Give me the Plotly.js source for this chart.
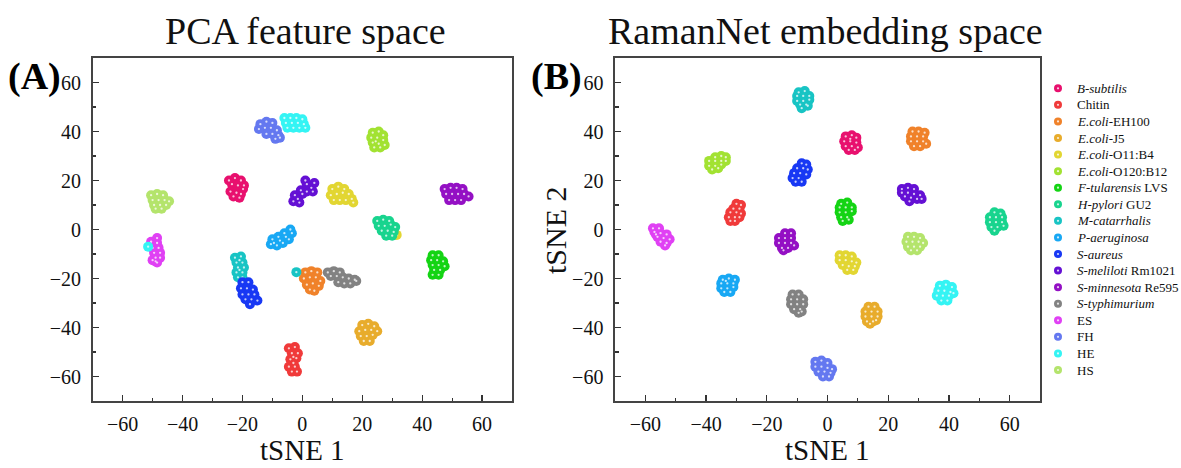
<!DOCTYPE html>
<html><head><meta charset="utf-8">
<script src="https://cdn.plot.ly/plotly-3.0.1.min.js"></script>
<style>html,body{margin:0;padding:0;background:#fff}#chart{width:1181px;height:468px}</style>
</head><body><div id="chart"></div>
<script>
const classes = ['<i>B-subtilis</i>','Chitin','<i>E.coli</i>-EH100','<i>E.coli</i>-J5','<i>E.coli</i>-O11:B4','<i>E.coli</i>-O120:B12','<i>F-tularensis</i> LVS','<i>H-pylori</i> GU2','<i>M-catarrhalis</i>','<i>P-aeruginosa</i>','<i>S-aureus</i>','<i>S-meliloti</i> Rm1021','<i>S-minnesota</i> Re595','<i>S-typhimurium</i>','ES','FH','HE','HS'];
const colors = ['#e8106e','#f03a3a','#f0822a','#e8ac2c','#e2d632','#a2e232','#14d414','#18d48e','#18c4c4','#18a8f4','#1838f4','#6410d4','#9410c4','#828282','#e040f4','#6478f0','#34f4f4','#b4e46c'];
const ticks = [-60,-40,-20,0,20,40,60];

// PCA feature space (panel A)
const pcaX = [
 [-24.5,-22.5,-20.5,-19.5,-23.5,-21.5,-19.8,-24,-22,-20.5,-23,-21],
 [-4.5,-2.5,-3.5,-1.5,-4,-2,-3,-4.5,-2.5,-3.5,-1.8,-3],
 [1,3,5,0.5,2.5,4.5,6,1.5,3.5,5.5,2.5,4],
 [20,22,24,19,21,23,25,19.5,21.5,23.5,20.5,22.5],
 [10,12,14,9.5,11.5,13.5,15.5,10.5,12.5,14.5,16.5,17,31.5],
 [23.5,25.5,27,23,25,27,23.5,25.5,27.5,24,26,24.5],
 [43.5,45.5,43,45,47,43.5,45.5,47.5,44,46,43.5,45.5],
 [25,27,29,25.5,27.5,29.5,31,26.5,28.5,30.5,28,30],
 [-22.5,-20.5,-22,-20,-21.5,-19.5,-22,-20,-21.5,-20,-21,-21,-2],
 [-10,-8,-6,-4,-9.5,-7.5,-5.5,-3.5,-8.5,-6.5,-4.5,-10.5],
 [-20,-18,-20.5,-18.5,-16.5,-20,-18,-16,-19,-17,-15,-17.5],
 [-3,-1.5,0,1.5,3,4,-2.5,-0.5,1.5,3.5,-1,1],
 [47.5,49.5,51.5,53.5,48,50,52,54,55.5,49,51,53],
 [8.5,10.5,12.5,9.5,11.5,13.5,15.5,17.5,12,14,16,18],
 [-50.5,-48.5,-50,-48,-49.5,-47.5,-49,-47.5,-48.5,-50,-48.5,-49],
 [-14,-12,-10,-14.5,-12.5,-10.5,-8.5,-12,-10,-8,-9,-7.5],
 [-6,-4,-2,0,-5.5,-3.5,-1.5,0.5,-5,-3,-1,1,-51.5],
 [-50.5,-48.5,-46.5,-50,-48,-46,-44.5,-49.5,-47.5,-45.5,-49,-47]
];
const pcaY = [
 [20,21,20,18,18.5,18,16.5,15.5,15,14.5,13.5,13],
 [-48.5,-48,-50.5,-50.5,-53,-52.5,-54.5,-56,-56,-58,-58,-52],
 [-17.5,-17,-17.5,-20,-19.5,-19.5,-21,-22.5,-22,-23,-24.5,-25],
 [-39,-38.5,-39.5,-41.5,-41,-41,-41.5,-43.5,-43.5,-43,-45.5,-45.5],
 [16.5,17.5,16.5,14,14.5,15,14.5,12,12,12,12.5,11,-2.2],
 [39.5,40,38.5,37.5,37.5,36.5,35.5,35,34.5,33.5,33.5,36],
 [-10.5,-10.5,-12.5,-12.5,-13,-14.5,-14.5,-15,-16.5,-16.5,-18.5,-18.5],
 [3.5,4,3.5,1.5,1.5,2,1,-0.5,-0.5,-1,-2.5,-2.5],
 [-11.5,-11,-13.5,-13.5,-15.5,-15.5,-17.5,-17.5,-19.5,-19.5,-12.5,-16.5,-17.4],
 [-4,-3,-1.5,0,-5.5,-4.5,-3,-1.5,-6.5,-5.5,-4,-6],
 [-21.5,-21.5,-24,-24,-24.5,-26.5,-26.5,-26.5,-28.5,-28.5,-29,-30.5],
 [11.5,12.5,14.5,15.5,17,19,14,16,18.5,15.5,11,20],
 [16.5,17,17,16.5,14.5,14.5,14.5,14.5,13.5,12,12,12],
 [-17.5,-17,-17.5,-19,-19,-19.5,-20,-20.5,-21.5,-22,-22,-21],
 [-5,-5.5,-7.5,-7.5,-9.5,-9.5,-11.5,-11.5,-13.5,-12.5,-3.5,-13],
 [43,44,43.5,41,41.5,41.5,40.5,39,39,38.5,37,37.5],
 [45.5,45.5,45.5,45,43.5,43.5,43.5,43,41.5,41.5,41.5,41.5,-7],
 [14,14.5,14,12,12,12,11.5,10,10,10,8.5,8.5]
];

// RamanNet embedding space (panel B)
const netX = [
 [6,8,9.5,5.5,7.5,9.5,6,8,10,7,9,7.5],
 [-30,-28.5,-31,-29,-32,-30,-28.5,-32.5,-30.5,-29,-32,-30.5],
 [28,30,32,27.5,29.5,31.5,27.5,29.5,31.5,28.5,30.5,32.5],
 [13.5,15.5,12.5,14.5,16.5,12.5,14.5,16.5,13,15,14,16],
 [4,6,8,4,6,8,9.5,5,7,9,6.5,8.5],
 [-37,-35,-33.5,-39,-37,-35,-33.5,-39,-37,-35,-38,-36],
 [4.5,6.5,4,6,8,4,6,8,4.5,6.5,5,7],
 [55,57,53.5,55.5,57.5,53.5,55.5,57.5,54,56,58,55],
 [-9.5,-7.5,-10,-8,-6,-10,-8,-6,-9,-7,-8.5,-6.5],
 [-34.5,-32.5,-30.5,-35,-33,-31,-35,-33,-31,-34,-32,-33.5],
 [-8.5,-7,-10,-8,-6.5,-11,-9,-7,-11.5,-9.5,-10.5,-8.5],
 [24.5,26.5,28.5,24.5,26.5,28.5,30.5,25.5,27.5,29.5,31,27],
 [-14,-12,-16,-14,-12,-16,-14,-12,-15,-13,-11,-14.5],
 [-11.5,-9.5,-12,-10,-8,-12,-10,-8,-11,-9,-9.5,-8.5],
 [-57.5,-55.5,-57,-55,-53,-56,-54,-52,-55,-53,-56.5,-53.5],
 [-4,-2,0,-4,-2,0,1.5,-3,-1,1,-1.5,0.5],
 [37,39,41,36.5,38.5,40.5,36,38,40,37.5,39.5,41.5],
 [26.5,28.5,30.5,26,28,30,31.5,26.5,28.5,30.5,27.5,29.5]
];
const netY = [
 [38,38.5,37.5,36,36,35.5,34,34,33.5,32.5,32.5,37],
 [10.5,10,8.5,8.5,7,7,6.5,5,5,5,3.5,3.5],
 [40,40,39.5,38,38,38,36,36,36,34,34,35],
 [-31.5,-31.5,-33.5,-33.5,-33.5,-35.5,-35.5,-35.5,-37.5,-37.5,-38.5,-37],
 [-10.5,-10.5,-11,-12.5,-12.5,-13,-13.5,-14.5,-15,-15,-16.5,-16.5],
 [29.5,30,29.5,28,28,28,28,26,26,26.5,24.5,25],
 [10.5,11,9,9,9,7,7,7.5,5,5,3.5,4],
 [7,6.5,5,5,5,3,3,3,1,1,1.5,-0.5],
 [56,56.5,54.5,54.5,54.5,52.5,52.5,53,51,51,49.5,50.5],
 [-20.5,-20,-20.5,-22,-22,-22,-24,-24,-23.5,-25.5,-25.5,-21],
 [27,26.5,25,25,24.5,23,23,22.5,21,21,19.5,19.5],
 [16.5,17,16.5,15,15,14.5,14,13.5,13,12.5,12.5,11.5],
 [-1.5,-1.5,-3.5,-3.5,-3.5,-5.5,-5.5,-5.5,-7.5,-7.5,-6.5,-8.5],
 [-26.5,-26.5,-28.5,-28.5,-28.5,-30.5,-30.5,-30.5,-32.5,-32.5,-34,-33.5],
 [0.5,0.5,-1,-1.5,-2,-3,-3.5,-4,-5,-5.5,-2,-6.5],
 [-54,-53.5,-54.5,-56,-56,-56.5,-57,-58,-58,-58.5,-60,-60],
 [-23,-22.5,-23.5,-25,-25,-25.5,-27,-27,-27,-29,-29,-26],
 [-3,-3,-3.5,-5,-5,-5,-5.5,-7,-7,-7,-8.5,-8.5]
];

const F = 'Liberation Serif, Times New Roman, serif';
const W = 1181, H = 468;
const px = v => v / W, py = v => 1 - v / H;
const MS = 10;

const traces = [];
function addPanel(X, Y, xa, ya) {
  classes.forEach((c, i) => {
    traces.push({type:'scatter', mode:'markers', x:X[i], y:Y[i], xaxis:xa, yaxis:ya, name:c,
      showlegend:false, hoverinfo:'skip', cliponaxis:false,
      marker:{size:MS, color:colors[i], line:{width:0}}});
    traces.push({type:'scatter', mode:'markers', x:X[i], y:Y[i], xaxis:xa, yaxis:ya,
      showlegend:false, hoverinfo:'skip', cliponaxis:false,
      marker:{size:2.3, color:'rgba(255,255,255,0.75)', line:{width:0}}});
  });
}
addPanel(pcaX, pcaY, 'x', 'y');
addPanel(netX, netY, 'x2', 'y2');

// custom legend column
const legIdx = classes.map((c, i) => i);
traces.push({type:'scatter', mode:'markers', x:classes.map(() => 0), y:legIdx, xaxis:'x3', yaxis:'y3',
  showlegend:false, hoverinfo:'skip', cliponaxis:false, marker:{size:8, color:colors, line:{width:0}}});
traces.push({type:'scatter', mode:'markers', x:classes.map(() => 0), y:legIdx, xaxis:'x3', yaxis:'y3',
  showlegend:false, hoverinfo:'skip', cliponaxis:false, marker:{size:2.2, color:'rgba(255,255,255,0.8)'}});

const axBase = {
  range:[-70,70], tickmode:'array', tickvals:ticks, ticks:'inside', ticklen:6, tickwidth:1.3, tickcolor:'#333',
  showline:true, linecolor:'#444', linewidth:1.6, mirror:true, showgrid:false, zeroline:false,
  tickfont:{family:F, size:20, color:'#111'},
  minor:{tick0:0, dtick:10, ticks:'inside', ticklen:3.5, tickwidth:1.2, tickcolor:'#333', showgrid:false},
  fixedrange:true
};
const yDom = [py(401), py(58)];
const layout = {
  width:W, height:H, paper_bgcolor:'#fff', plot_bgcolor:'#fff', showlegend:false,
  margin:{l:0, r:0, t:0, b:0},
  font:{family:F, color:'#111'},
  xaxis:Object.assign({}, axBase, {domain:[px(92.7), px(512)], anchor:'y', ticklabelstandoff:4}),
  yaxis:Object.assign({}, axBase, {domain:yDom, anchor:'x', ticklabelstandoff:6}),
  xaxis2:Object.assign({}, axBase, {domain:[px(615), px(1040)], anchor:'y2', ticklabelstandoff:4}),
  yaxis2:Object.assign({}, axBase, {domain:yDom, anchor:'x2', ticklabelstandoff:6}),
  xaxis3:{domain:[px(1050), px(1066)], range:[-1,1], visible:false, fixedrange:true, anchor:'y3'},
  yaxis3:{domain:[py(378.3), py(80)], range:[classes.length - 0.5, -0.5], visible:false, fixedrange:true, anchor:'x3'},
  annotations:[
    {text:'PCA feature space', xref:'paper', yref:'paper', x:px(305), y:py(31), xanchor:'center', yanchor:'middle', showarrow:false, font:{size:38, family:F, color:'#111'}},
    {text:'RamanNet embedding space', xref:'paper', yref:'paper', x:px(825), y:py(31), xanchor:'center', yanchor:'middle', showarrow:false, font:{size:38, family:F, color:'#111'}},
    {text:'<b>(A)</b>', xref:'paper', yref:'paper', x:px(6), y:py(77), xanchor:'left', yanchor:'middle', showarrow:false, font:{size:38, family:F, color:'#000'}},
    {text:'<b>(B)</b>', xref:'paper', yref:'paper', x:px(529), y:py(77), xanchor:'left', yanchor:'middle', showarrow:false, font:{size:38, family:F, color:'#000'}},
    {text:'tSNE 1', xref:'paper', yref:'paper', x:px(302.4), y:py(450), xanchor:'center', yanchor:'middle', showarrow:false, font:{size:29, family:F, color:'#111'}},
    {text:'tSNE 1', xref:'paper', yref:'paper', x:px(827.5), y:py(450), xanchor:'center', yanchor:'middle', showarrow:false, font:{size:29, family:F, color:'#111'}},
    {text:'tSNE 2', xref:'paper', yref:'paper', x:px(555), y:py(230), xanchor:'center', yanchor:'middle', textangle:-90, showarrow:false, font:{size:30, family:F, color:'#111'}}
  ].concat(classes.map((c, i) => ({
    text:c, xref:'paper', yref:'y3', x:px(1075), y:i, xanchor:'left', yanchor:'middle', showarrow:false,
    font:{size:13, family:F, color:'#111'}
  })))
};
Plotly.newPlot('chart', traces, layout, {staticPlot:true, displayModeBar:false});
</script>
</body></html>
